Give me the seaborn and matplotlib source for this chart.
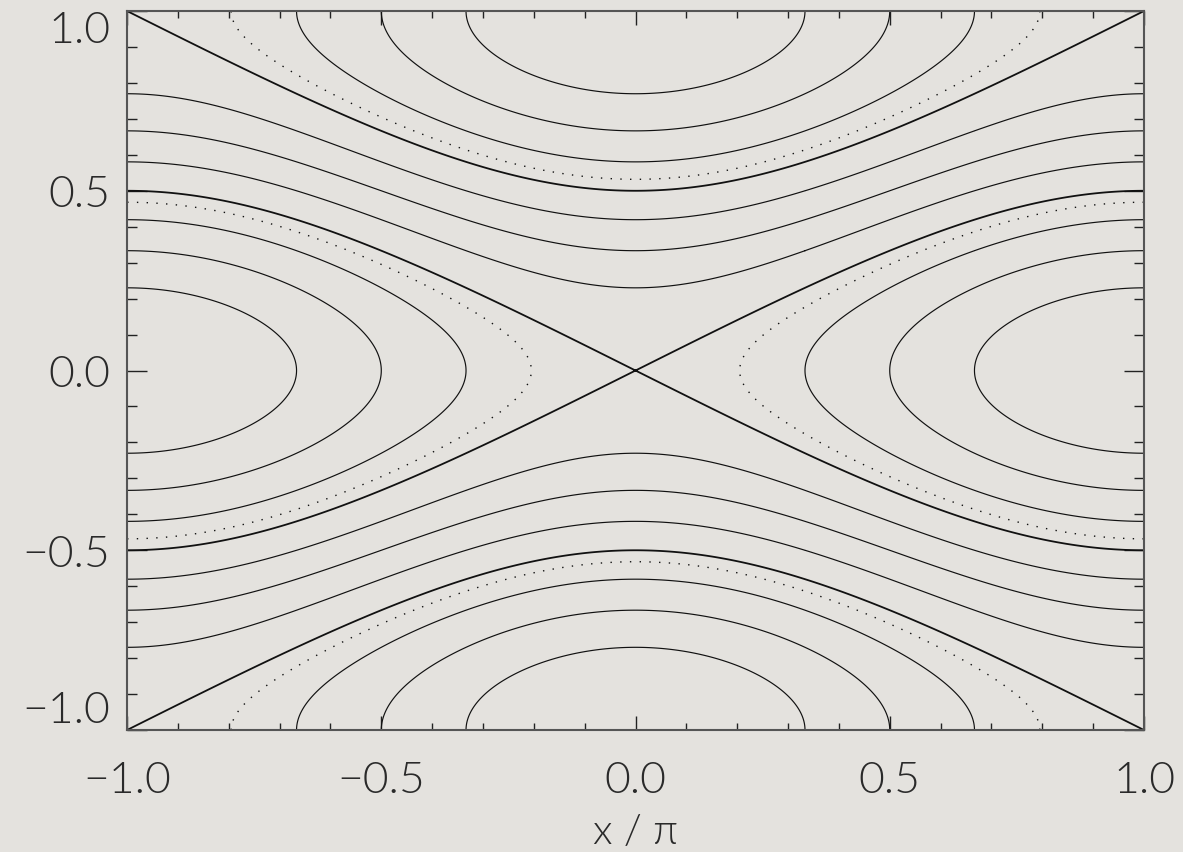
import numpy as np
import matplotlib
matplotlib.use("Agg")
import matplotlib.pyplot as plt
import seaborn as sns
from matplotlib.ticker import FixedLocator, MultipleLocator

# ---- data -------------------------------------------------------------
x_limits = [-1.0, 1.0]            # x / pi
y_limits = [-1.0, 1.0]
island_amplitude = 0.5            # psi = cos(pi*y) - A*cos(x)
solid_levels = [-1.25, -1.0, -0.75, -0.25, 0.0, 0.25, 0.75, 1.0, 1.25]
separatrix_levels = [-0.5, 0.5]
dotted_levels = [-0.6, 0.6]
x_ticks = [-1.0, -0.5, 0.0, 0.5, 1.0]
y_ticks = [-1.0, -0.5, 0.0, 0.5, 1.0]
x_tick_labels = ["\u22121.0", "\u22120.5", "0.0", "0.5", "1.0"]
y_tick_labels = ["\u22121.0", "\u22120.5", "0.0", "0.5", "1.0"]
x_label = "x / \u03c0"

# ---- style --------------------------------------------------------------
bg = "#e4e2de"
txt = "#2a2a2a"
sns.set_theme(style="white")
plt.rcParams["font.family"] = ["Lato", "DejaVu Sans"]
plt.rcParams["axes.facecolor"] = bg
plt.rcParams["figure.facecolor"] = bg

fig = plt.figure(figsize=(11.83, 8.53), dpi=100)
ax = fig.add_axes([0.1074, 0.1430, 0.9670 - 0.1074, 0.9859 - 0.1430])

# ---- field --------------------------------------------------------------
xs = np.linspace(x_limits[0], x_limits[1], 1201)
ys = np.linspace(y_limits[0], y_limits[1], 1201)
X, Y = np.meshgrid(xs, ys)
psi = np.cos(np.pi * Y) - island_amplitude * np.cos(np.pi * X)

ax.contour(X, Y, psi, levels=solid_levels, colors="#111111",
           linewidths=0.85, linestyles="solid")
ax.contour(X, Y, psi, levels=separatrix_levels, colors="#111111",
           linewidths=1.3, linestyles="solid")
ax.contour(X, Y, psi, levels=dotted_levels, colors="#111111",
           linewidths=1.0, linestyles=[(0, (1.0, 6.0))])

ax.set_xlim(*x_limits)
ax.set_ylim(*y_limits)

# ---- axes decoration ---------------------------------------------------
for s in ax.spines.values():
    s.set_color("#555555")
    s.set_linewidth(1.5)
    s.set_visible(True)

ax.xaxis.set_major_locator(FixedLocator(x_ticks))
ax.yaxis.set_major_locator(FixedLocator(y_ticks))
ax.xaxis.set_minor_locator(MultipleLocator(0.1))
ax.yaxis.set_minor_locator(MultipleLocator(0.1))
ax.set_xticklabels(x_tick_labels)
ax.set_yticklabels(y_tick_labels)

ax.tick_params(axis="x", which="major", direction="in", length=10.4,
               width=1.0, color="#222222", top=True, bottom=True,
               labelsize=32, pad=22, labelcolor=txt)
ax.tick_params(axis="x", which="minor", direction="in", length=5.2,
               width=1.0, color="#222222", top=True, bottom=True)
ax.tick_params(axis="y", which="major", direction="in", length=14.6,
               width=1.0, color="#222222", left=True, right=True,
               labelsize=32, pad=12, labelcolor=txt)
ax.tick_params(axis="y", which="minor", direction="in", length=7.3,
               width=1.0, color="#222222", left=True, right=True)

for lab in ax.get_xticklabels() + ax.get_yticklabels():
    lab.set_fontweight(300)

ylabs = ax.get_yticklabels()
ylabs[0].set_verticalalignment("bottom")
ylabs[-1].set_verticalalignment("top")

ax.set_xlabel(x_label, fontsize=30, fontweight=300, color=txt,
              labelpad=10)

fig.savefig("out.png", dpi=100, facecolor=bg)
